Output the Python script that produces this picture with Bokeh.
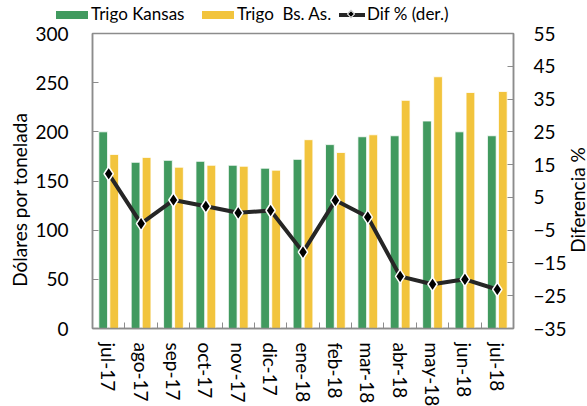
from bokeh.plotting import figure
from bokeh.layouts import column, row
from bokeh.models import (ColumnDataSource, Range1d, LinearAxis, FixedTicker, Div)
from bokeh.transform import dodge
from bokeh.embed import file_html
from bokeh.resources import INLINE

months = ["jul-17", "ago-17", "sep-17", "oct-17", "nov-17", "dic-17", "ene-18",
          "feb-18", "mar-18", "abr-18", "may-18", "jun-18", "jul-18"]
kansas = [200, 169, 171, 170, 166, 163, 172, 187, 195, 196, 211, 200, 196]
bsas = [177, 174, 164, 166, 165, 161, 192, 179, 197, 232, 256, 240, 241]
dif = [12.2, -3.0, 4.2, 2.3, 0.3, 1.0, -11.7, 4.1, -1.0, -19.1, -21.5, -20.0, -23.1]
series_names = ["Trigo Kansas", "Trigo  Bs. As.", "Dif % (der.)"]
left_title = "Dólares por tonelada"
right_title = "Diferencia %"

idx = list(range(len(months)))
src = ColumnDataSource(dict(i=idx, k=kansas, b=bsas, d=dif))

FONT = "Lato"
GREEN = "#419A5F"
YELLOW = "#F2C43D"
LINEC = "#262626"
AXC = "#8C8C8C"
LEG_H = 22
LEFT_W = 30
RIGHT_W = 19
SIDE_H = 380

p = figure(frame_width=421, frame_height=295, output_backend="svg", toolbar_location=None,
           x_range=Range1d(-0.5, len(months) - 0.5), y_range=Range1d(0, 300),
           min_border_left=92 - LEFT_W, min_border_right=55, min_border_top=33 - LEG_H,
           min_border_bottom=60)
p.extra_y_ranges = {"dif": Range1d(-35, 55)}
p.xgrid.visible = False
p.ygrid.visible = False
p.outline_line_color = AXC
p.outline_line_width = 1.5
p.background_fill_color = "white"
p.border_fill_color = "white"

p.vbar(x=dodge("i", -0.17, range=p.x_range), top="k", width=0.27, bottom=0,
       source=src, fill_color=GREEN, line_color="white", line_width=0.8)
p.vbar(x=dodge("i", 0.17, range=p.x_range), top="b", width=0.27, bottom=0,
       source=src, fill_color=YELLOW, line_color="white", line_width=0.8)
p.line(x="i", y="d", source=src, y_range_name="dif", line_color=LINEC, line_width=4)
p.scatter(x="i", y="d", source=src, y_range_name="dif", marker="diamond", size=14,
          fill_color="black", line_color="white", line_width=1.5)

# bottom axis
xa = p.xaxis[0]
xa.ticker = FixedTicker(ticks=idx, minor_ticks=[i - 0.5 for i in range(len(months) + 1)])
xa.major_label_overrides = {i: m for i, m in enumerate(months)}
xa.major_label_orientation = "vertical"
xa.major_tick_in = 0
xa.major_tick_out = 0
xa.minor_tick_in = 6
xa.minor_tick_out = 0
xa.minor_tick_line_color = AXC
xa.axis_line_color = AXC
xa.axis_line_width = 1.5
xa.major_label_text_font = FONT
xa.major_label_text_font_size = "19px"
xa.major_label_text_color = "black"
xa.major_label_standoff = 14


def style_ticks(ax, standoff):
    ax.major_tick_in = 6
    ax.major_tick_out = 0
    ax.minor_tick_line_color = None
    ax.major_tick_line_color = AXC
    ax.axis_line_color = AXC
    ax.axis_line_width = 1.5
    ax.major_label_text_font = FONT
    ax.major_label_text_font_size = "19px"
    ax.major_label_text_color = "black"
    ax.major_label_standoff = standoff


ya = p.yaxis[0]
ya.ticker = FixedTicker(ticks=list(range(0, 301, 50)))
style_ticks(ya, 24)

ra = LinearAxis(y_range_name="dif", ticker=FixedTicker(ticks=list(range(-35, 56, 10))))
style_ticks(ra, 20)
p.add_layout(ra, "right")

# legend strip above the chart
sw = "position:absolute;"
legend_html = (
    f'<div style="position:relative;width:587px;height:{LEG_H}px;font-family:{FONT};'
    'font-size:17px;color:black;white-space:pre;">'
    f'<span style="{sw}left:56px;top:11px;width:32px;height:8px;background:{GREEN};"></span>'
    f'<span style="{sw}left:91px;top:4px;line-height:20px;">{series_names[0]}</span>'
    f'<span style="{sw}left:202px;top:11px;width:32px;height:8px;background:{YELLOW};"></span>'
    f'<span style="{sw}left:237px;top:4px;line-height:20px;">{series_names[1]}</span>'
    f'<span style="{sw}left:339px;top:13px;width:26px;height:4px;background:{LINEC};"></span>'
    f'<span style="{sw}left:348px;top:11px;width:6px;height:6px;background:black;'
    'border:1px solid white;transform:rotate(45deg);"></span>'
    f'<span style="{sw}left:367px;top:4px;line-height:20px;">{series_names[2]}</span>'
    '</div>'
)
legend_div = Div(text=legend_html, width=587, height=LEG_H, margin=0)


def side_title(text, width, cx, cy, lh):
    html = (
        f'<div style="position:relative;width:{width}px;height:{SIDE_H}px;">'
        f'<div style="position:absolute;left:{cx}px;top:{cy}px;'
        'transform:translate(-50%,-50%) rotate(-90deg);white-space:nowrap;'
        f'font-family:{FONT};font-size:19px;line-height:{lh}px;color:black;">{text}</div>'
        '</div>'
    )
    return Div(text=html, width=width, height=SIDE_H, margin=0)


left_div = side_title(left_title, LEFT_W, 20, 200 - LEG_H, 22)
right_div = side_title(right_title, RIGHT_W, 8, 200 - LEG_H, 19)

layout = column(legend_div, row(left_div, p, right_div, spacing=0), spacing=0)
open("out.html", "w").write(file_html(layout, INLINE))
